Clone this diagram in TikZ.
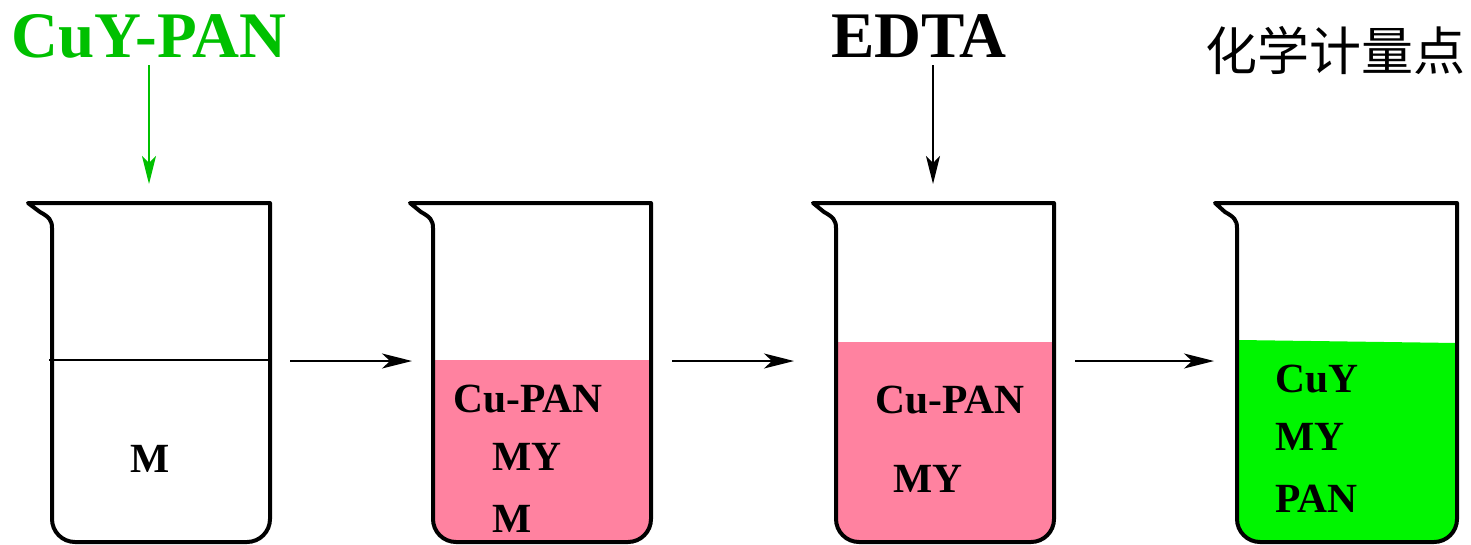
\documentclass[tikz,border=0pt]{standalone}
\usepackage{fontspec}
\setmainfont{Liberation Serif}
\newfontfamily\cjk{Noto Sans CJK SC}
\usetikzlibrary{arrows.meta}
\definecolor{liqpink}{RGB}{255,130,160}
\definecolor{liqgreen}{RGB}{0,245,0}
\definecolor{txtgreen}{RGB}{0,192,0}
\tikzset{
  beakerline/.style={line width=4pt, line join=round, draw=black},
  flowarrow/.style={line width=1.8pt, -{Stealth[length=30pt,width=15pt,inset=8pt]}},
  btext/.style={anchor=base west, inner sep=0pt, font=\fontsize{41.5}{41.5}\selectfont\bfseries},
  bigtext/.style={anchor=base, inner sep=0pt, font=\fontsize{65}{65}\selectfont\bfseries}
}
\newcommand{\liquidfill}[4]{% xw, xr, top, color
  \fill[#4] (#1,#3) -- (#2,#3) -- (#2,519) arc[start angle=0,end angle=90,radius=23]
    -- ({#1+23},542) arc[start angle=90,end angle=180,radius=23] -- cycle;}
\newcommand{\beakeroutline}[3]{% xl, xw, xr
  \draw[beakerline] (#1,203) -- (#3,203) -- (#3,519) arc[start angle=0,end angle=90,radius=23]
    -- ({#2+23},542) arc[start angle=90,end angle=180,radius=23]
    -- (#2,228) .. controls (#2,220) and ({#2-3},217) .. ({#2-12},212) -- cycle;}
\begin{document}
\begin{tikzpicture}[x=1pt,y=-1pt]
\path[use as bounding box] (0,0) rectangle (1471,544);
% liquids
\liquidfill{433}{651}{360}{liqpink}
\liquidfill{836}{1054}{342}{liqpink}
\fill[liqgreen] (1239,340) -- (1457,343) -- (1457,519) arc[start angle=0,end angle=90,radius=23]
    -- (1260,542) arc[start angle=90,end angle=180,radius=23] -- cycle;
% level line in beaker 1
\draw[line width=1.8pt] (49,360) -- (270,360);
% beakers
\beakeroutline{28}{52}{270}
\beakeroutline{410}{433}{651}
\beakeroutline{813}{836}{1054}
\beakeroutline{1215}{1237}{1457}
% top labels
\node[bigtext, text=txtgreen] (cuypan) at (149,57) {CuY-PAN};
\node[bigtext] (edta) at (919,57) {EDTA};
\node[anchor=west, inner sep=0pt, font=\cjk\fontsize{52}{52}\selectfont] (hxjld) at (1205,51) {化学计量点};
% beaker texts
\node[btext] (m1) at (130,472) {M};
\node[btext] (cupan2) at (453,412) {Cu-PAN};
\node[btext] (my2) at (492,470) {MY};
\node[btext] (m2) at (492,532) {M};
\node[btext] (cupan3) at (875,413) {Cu-PAN};
\node[btext] (my3) at (893,492) {MY};
\node[btext] (cuy4) at (1275,392) {CuY};
\node[btext] (my4) at (1275,450) {MY};
\node[btext] (pan4) at (1275,512) {PAN};
% arrow ends
\coordinate (g0) at (149,65);  \coordinate (g1) at (149,184);
\coordinate (e0) at (933,65);  \coordinate (e1) at (933,184);
\coordinate (a0) at (290,361); \coordinate (a1) at (412,361);
\coordinate (b0) at (672,361); \coordinate (b1) at (794,361);
\coordinate (c0) at (1075,361); \coordinate (c1) at (1214,361);
\draw[flowarrow, draw=txtgreen, fill=txtgreen, -{Stealth[length=28pt,width=14pt,inset=7pt]}] (g0) -- (g1);
\draw[flowarrow, -{Stealth[length=28pt,width=14pt,inset=7pt]}] (e0) -- (e1);
\draw[flowarrow] (a0) -- (a1);
\draw[flowarrow] (b0) -- (b1);
\draw[flowarrow] (c0) -- (c1);
\end{tikzpicture}
\end{document}
